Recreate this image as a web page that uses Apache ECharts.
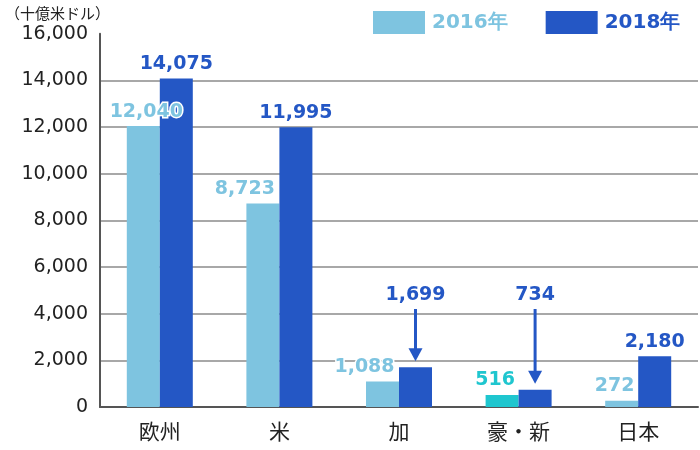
<!DOCTYPE html>
<html>
<head>
<meta charset="utf-8">
<script src="https://cdn.jsdelivr.net/npm/echarts@6/dist/echarts.min.js"></script>
<style>
html, body { margin: 0; padding: 0; background: #fff; }
#chart { width: 700px; height: 450px; }
</style>
</head>
<body>
<div id="chart"></div>
<script>
// data
var regions = ['欧州', '米', '加', '豪・新', '日本'];
var values2016 = [12040, 8723, 1088, 516, 272];
var values2018 = [14075, 11995, 1699, 734, 2180];
var yMin = 0, yMax = 16000, yStep = 2000;
// 吹き出し（矢印）の起点の高さ、null は矢印なし
var calloutLevel = [null, null, 4200, 4200, null];

var light = '#7ec4e0';
var dark = '#2457c5';
var cyan = '#1fc6cf';
var barW = 33;
var numFont = 'DejaVu Sans, Verdana, sans-serif';
var jpFont = 'Noto Sans CJK JP, sans-serif';

function fmt(v) {
	return String(v).replace(/\B(?=(\d{3})+(?!\d))/g, ',');
}

var chart = echarts.init(document.getElementById('chart'));

// 2016年ラベルの横ずれ
var shift2016 = [3, -18, -18, -7, -7];

var data2016 = values2016.map(function (v, i) {
	var item = { value: v, label: { offset: [shift2016[i], 0] } };
	if (i === 3) {
		item.itemStyle = { color: cyan };
		item.label.color = cyan;
	}
	return item;
});
var data2018 = values2018.map(function (v, i) {
	var item = { value: v };
	if (calloutLevel[i] != null) {
		item.label = { show: false };
	}
	return item;
});

var option = {
	animation: false,
	title: {
		text: '（十億米ドル）',
		left: 0,
		top: 1,
		textStyle: { fontFamily: jpFont, fontSize: 15, fontWeight: 'normal', color: '#222' }
	},
	legend: {
		left: 368,
		top: 6,
		itemWidth: 52,
		itemHeight: 23,
		itemGap: 38,
		icon: 'rect',
		data: [
			{ name: '2016年', textStyle: { color: light } },
			{ name: '2018年', textStyle: { color: dark } }
		],
		textStyle: { fontFamily: numFont, fontSize: 20, fontWeight: 'bold', padding: [0, 0, 0, 2] }
	},
	grid: { left: 100, right: 2, top: 33.7, bottom: 43 },
	xAxis: {
		type: 'category',
		data: regions,
		axisLine: { lineStyle: { color: '#555', width: 2 } },
		axisTick: { show: false },
		axisLabel: { margin: 14, fontFamily: jpFont, fontSize: 21, color: '#222' }
	},
	yAxis: {
		type: 'value',
		min: yMin,
		max: yMax,
		interval: yStep,
		axisLine: { show: true, lineStyle: { color: '#555', width: 2 } },
		axisTick: { show: false },
		axisLabel: {
			margin: 12,
			fontFamily: numFont,
			fontSize: 19,
			color: '#222',
			formatter: function (v) { return fmt(v); }
		},
		splitLine: { show: true, showMaxLine: false, lineStyle: { color: '#a8a8a8', width: 2 } }
	},
	series: [
		{
			name: '2016年',
			type: 'bar',
			barWidth: barW,
			barGap: '0%',
			itemStyle: { color: light },
			label: {
				show: true,
				position: 'top',
				distance: 5,
				fontFamily: numFont,
				fontSize: 19,
				fontWeight: 'bold',
				color: light,
				textBorderColor: '#fff',
				textBorderWidth: 3,
				formatter: function (p) { return fmt(p.value); }
			},
			data: data2016
		},
		{
			name: '2018年',
			type: 'bar',
			barWidth: barW,
			barGap: '0%',
			itemStyle: { color: dark },
			label: {
				show: true,
				position: 'top',
				distance: 5,
				fontFamily: numFont,
				fontSize: 19,
				fontWeight: 'bold',
				color: dark,
				formatter: function (p) { return fmt(p.value); }
			},
			data: data2018
		}
	]
};

chart.setOption(option);

// 小さい値には上から矢印で値を示す
function drawCallouts() {
	var els = [];
	calloutLevel.forEach(function (level, i) {
		if (level == null) return;
		var top = chart.convertToPixel({ gridIndex: 0 }, [i, level]);
		var bar = chart.convertToPixel({ gridIndex: 0 }, [i, values2018[i]]);
		var x = top[0] + barW / 2;
		var tip = bar[1] - 6;
		els.push({
			type: 'line',
			shape: { x1: x, y1: top[1], x2: x, y2: tip - 10 },
			style: { stroke: dark, lineWidth: 3 }
		});
		els.push({
			type: 'polygon',
			shape: { points: [[x - 7, tip - 13], [x + 7, tip - 13], [x, tip]] },
			style: { fill: dark }
		});
		els.push({
			type: 'text',
			x: x,
			y: top[1] - 4,
			style: {
				text: fmt(values2018[i]),
				align: 'center',
				verticalAlign: 'bottom',
				font: 'bold 19px ' + numFont,
				fill: dark
			}
		});
	});
	chart.setOption({ graphic: els });
}
drawCallouts();
window.onresize = chart.resize;
</script>
</body>
</html>
